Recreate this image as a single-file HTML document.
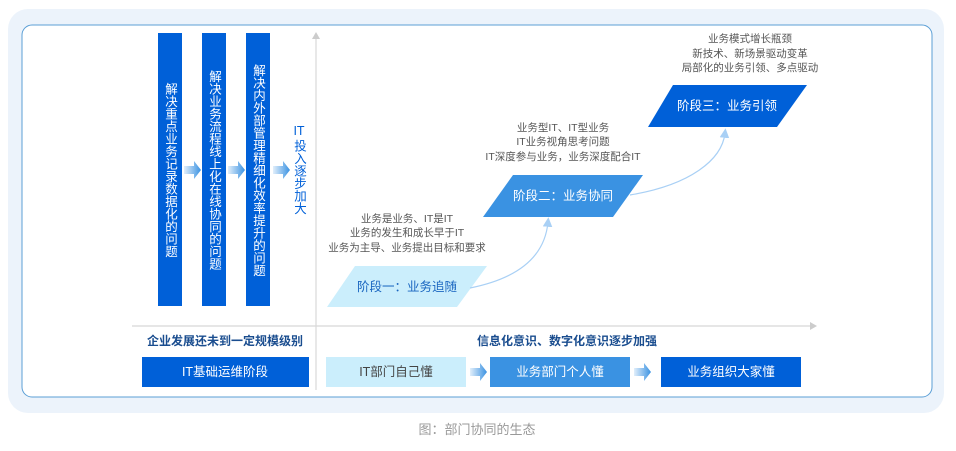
<!DOCTYPE html>
<html><head><meta charset="utf-8"><style>
body{margin:0;width:956px;height:446px;background:#fff;overflow:hidden;font-family:"Liberation Sans","Noto Sans CJK SC",sans-serif}
.v{writing-mode:vertical-rl;text-orientation:upright}
</style></head><body>
<svg width="956" height="446" viewBox="0 0 956 446" xmlns="http://www.w3.org/2000/svg" font-family="Liberation Sans, Noto Sans CJK SC, sans-serif">
<defs>
<linearGradient id="ag" x1="0" x2="1"><stop offset="0" stop-color="#3a92e2" stop-opacity="0.15"/><stop offset="1" stop-color="#3a92e2"/></linearGradient>
<marker id="ma" markerWidth="8" markerHeight="8" refX="4" refY="4" orient="auto"><path d="M0,0 L8,4 L0,8 z" fill="#a9d0f5"/></marker>
</defs>
<rect x="8" y="9" width="936" height="404" rx="20" fill="#ecf3fb"/>
<rect x="22" y="25" width="910" height="372" rx="10" fill="#fff" stroke="#5b9fd6" stroke-width="1"/>
<rect x="158" y="33" width="24" height="273" fill="#0060d8"/>
<rect x="202" y="33" width="24" height="273" fill="#0060d8"/>
<rect x="246" y="33" width="24" height="273" fill="#0060d8"/>
<g fill="#fff" font-size="12.5" text-anchor="middle">
<text class="v" x="170" y="170">解决重点业务记录数据化的问题</text>
<text class="v" x="214" y="170">解决业务流程线上化在线协同的问题</text>
<text class="v" x="258" y="170">解决内外部管理精细化效率提升的问题</text>
</g>
<g fill="url(#ag)">
<path d="M184,166 h10 v-5 l7,9 l-7,9 v-5 h-10z"/>
<path d="M228,166 h10 v-5 l7,9 l-7,9 v-5 h-10z"/>
<path d="M273,166 h10 v-5 l7,9 l-7,9 v-5 h-10z"/>
<path d="M470,368 h10 v-5 l7,9 l-7,9 v-5 h-10z"/>
<path d="M634,368 h10 v-5 l7,9 l-7,9 v-5 h-10z"/>
</g>
<text x="299" y="135" fill="#0060d8" font-size="12.5" text-anchor="middle">IT</text>
<text class="v" x="299" y="177" fill="#0060d8" font-size="12.5" text-anchor="middle">投入逐步加大</text>
<line x1="316" y1="36" x2="316" y2="390" stroke="#d8d8d8" stroke-width="1.2"/>
<path d="M312,39 L316,32 L320,39z" fill="#ccc"/>
<line x1="132" y1="326" x2="812" y2="326" stroke="#d8d8d8" stroke-width="1.2"/>
<path d="M810,322 L817,326 L810,330z" fill="#ccc"/>
<text x="225" y="345" fill="#1a4d8f" font-size="12" font-weight="bold" text-anchor="middle">企业发展还未到一定规模级别</text>
<rect x="142" y="357" width="167" height="30" fill="#0060d8"/>
<text x="225" y="376" fill="#fff" font-size="12.5" text-anchor="middle">IT基础运维阶段</text>
<text x="567" y="345" fill="#1a4d8f" font-size="12" font-weight="bold" text-anchor="middle">信息化意识、数字化意识逐步加强</text>
<rect x="326" y="357" width="140" height="30" fill="#cbeefc"/>
<text x="396" y="376" fill="#444" font-size="12.5" text-anchor="middle">IT部门自己懂</text>
<rect x="490" y="357" width="140" height="30" fill="#3a92e2"/>
<text x="560" y="376" fill="#fff" font-size="12.5" text-anchor="middle">业务部门个人懂</text>
<rect x="661" y="357" width="140" height="30" fill="#0060d8"/>
<text x="731" y="376" fill="#fff" font-size="12.5" text-anchor="middle">业务组织大家懂</text>
<text x="477" y="434" fill="#999" font-size="13" text-anchor="middle">图：部门协同的生态</text>
<path d="M355,266 L487,266 L457,307 L327,307z" fill="#cbeefc"/>
<text x="407" y="291" fill="#1a66c0" font-size="12.5" text-anchor="middle">阶段一：业务追随</text>
<path d="M513,175 L643,175 L613,217 L483,217z" fill="#3a92e2"/>
<text x="563" y="200" fill="#fff" font-size="12.5" text-anchor="middle">阶段二：业务协同</text>
<path d="M673,85 L807,85 L777,127 L648,127z" fill="#0060d8"/>
<text x="727" y="110" fill="#fff" font-size="12.5" text-anchor="middle">阶段三：业务引领</text>
<path d="M470,288 C520,278 545,255 548,222" fill="none" stroke="#a9d0f5" stroke-width="1.2" marker-end="url(#ma)"/>
<path d="M630,195 C690,185 722,160 725,133" fill="none" stroke="#a9d0f5" stroke-width="1.2" marker-end="url(#ma)"/>
<g fill="#555" font-size="10.5" text-anchor="middle">
<text x="407" y="222">业务是业务、IT是IT</text>
<text x="407" y="236">业务的发生和成长早于IT</text>
<text x="407" y="251">业务为主导、业务提出目标和要求</text>
<text x="563" y="131">业务型IT、IT型业务</text>
<text x="563" y="145">IT业务视角思考问题</text>
<text x="563" y="160">IT深度参与业务，业务深度配合IT</text>
<text x="750" y="42">业务模式增长瓶颈</text>
<text x="750" y="57">新技术、新场景驱动变革</text>
<text x="750" y="71">局部化的业务引领、多点驱动</text>
</g>
</svg>
</body></html>
